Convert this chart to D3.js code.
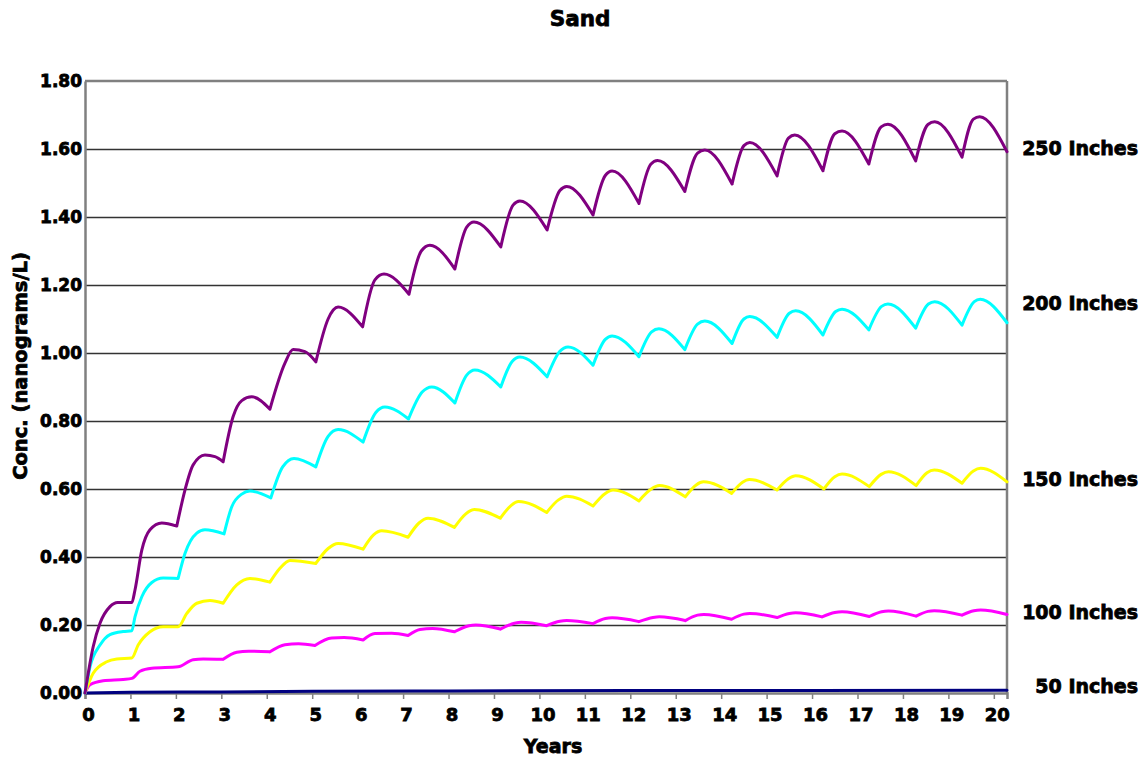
<!DOCTYPE html>
<html>
<head>
<meta charset="utf-8">
<script src="https://cdn.jsdelivr.net/npm/d3@7"></script>
<style>
  html, body { margin: 0; padding: 0; background: #fff; }
  svg text { font-family: "DejaVu Sans", "Liberation Sans", sans-serif; font-weight: bold; fill: #000; }
</style>
</head>
<body>
<svg id="chart" width="1148" height="761"></svg>
<script>
// ---- data (years, concentration ng/L) ----
const chartTitle = "Sand";
const xTitle = "Years";
const yTitle = "Conc. (nanograms/L)";
const xTicks = [0,1,2,3,4,5,6,7,8,9,10,11,12,13,14,15,16,17,18,19,20];
const yTicks = [0,0.2,0.4,0.6,0.8,1.0,1.2,1.4,1.6,1.8];
const seriesNames = ["50 Inches","100 Inches","150 Inches","200 Inches","250 Inches"];

const in50 = [[0,0],[1,0.002],[3,0.003],[5,0.005],[8,0.006],[12,0.007],[16,0.0075],[20.29,0.008]];

const in100 = [[0,0],[0.11,0.024],[0.4,0.036],[0.84,0.040],[1.03,0.043],
  [1.21,0.064],[1.47,0.073],[2.05,0.077],
  [2.38,0.098],[2.6,0.100],[3.04,0.099],
  [3.34,0.120],[3.6,0.123],[4.07,0.121],
  [4.4,0.142],[4.7,0.145],[5.06,0.140],
  [5.43,0.162],[5.7,0.163],[6.12,0.156],
  [6.38,0.175],[6.75,0.176],[7.11,0.169],
  [7.37,0.187],[7.65,0.190],[8.13,0.180],
  [8.45,0.198],[8.6,0.200],[9.14,0.188],
  [9.45,0.205],[9.6,0.208],[10.16,0.198],
  [10.45,0.211],[10.6,0.213],[11.18,0.204],
  [11.45,0.219],[11.6,0.221],[12.19,0.210],
  [12.5,0.222],[12.64,0.224],[13.21,0.213],
  [13.48,0.229],[13.62,0.231],[14.23,0.217],
  [14.5,0.232],[14.63,0.234],[15.23,0.222],
  [15.5,0.234],[15.64,0.236],[16.22,0.224],
  [16.5,0.237],[16.66,0.239],[17.26,0.225],
  [17.53,0.239],[17.68,0.241],[18.29,0.226],
  [18.55,0.240],[18.69,0.242],[19.3,0.229],
  [19.56,0.242],[19.71,0.244],[20.29,0.231]];

const in150 = [[0,0],[0.18,0.058],[0.48,0.092],[0.7,0.100],[1.03,0.103],
  [1.17,0.141],[1.43,0.180],[1.72,0.195],[2.05,0.195],
  [2.24,0.234],[2.46,0.264],[2.75,0.272],[3.04,0.264],
  [3.34,0.318],[3.63,0.337],[4.07,0.326],
  [4.29,0.367],[4.51,0.390],[5.08,0.381],
  [5.35,0.425],[5.57,0.440],[6.12,0.423],
  [6.35,0.465],[6.53,0.477],[7.11,0.458],
  [7.35,0.500],[7.55,0.514],[8.13,0.487],
  [8.38,0.527],[8.57,0.540],[9.14,0.514],
  [9.38,0.552],[9.54,0.563],[10.16,0.531],
  [10.42,0.568],[10.6,0.579],[11.18,0.550],
  [11.45,0.587],[11.62,0.597],[12.19,0.565],
  [12.46,0.600],[12.64,0.610],[13.21,0.577],
  [13.45,0.612],[13.61,0.621],[14.23,0.587],
  [14.47,0.620],[14.62,0.628],[15.23,0.597],
  [15.48,0.630],[15.64,0.639],[16.26,0.600],
  [16.5,0.636],[16.66,0.644],[17.26,0.607],
  [17.52,0.643],[17.68,0.651],[18.29,0.610],
  [18.53,0.648],[18.69,0.656],[19.3,0.617],
  [19.55,0.653],[19.71,0.661],[20.29,0.621]];

const in200 = [[0,0],[0.11,0.077],[0.33,0.141],[0.55,0.172],[0.84,0.181],[1.03,0.183],
  [1.1,0.224],[1.25,0.283],[1.47,0.325],[1.72,0.338],[2.05,0.337],
  [2.2,0.410],[2.46,0.470],[2.64,0.480],[3.06,0.468],
  [3.23,0.548],[3.45,0.585],[3.63,0.594],[4.09,0.574],
  [4.35,0.665],[4.6,0.690],[5.08,0.665],
  [5.35,0.755],[5.57,0.775],[6.12,0.738],
  [6.4,0.825],[6.6,0.841],[7.12,0.806],
  [7.42,0.885],[7.63,0.900],[8.14,0.853],
  [8.4,0.935],[8.58,0.950],[9.15,0.900],
  [9.4,0.975],[9.57,0.988],[10.17,0.930],
  [10.45,1.005],[10.63,1.018],[11.18,0.964],
  [11.45,1.040],[11.6,1.050],[12.19,0.989],
  [12.47,1.062],[12.63,1.071],[13.2,1.010],
  [13.48,1.085],[13.64,1.094],[14.24,1.028],
  [14.5,1.100],[14.63,1.107],[15.23,1.046],
  [15.5,1.117],[15.64,1.124],[16.24,1.053],
  [16.52,1.122],[16.66,1.129],[17.25,1.068],
  [17.53,1.137],[17.67,1.144],[18.28,1.073],
  [18.56,1.144],[18.7,1.151],[19.3,1.082],
  [19.57,1.151],[19.7,1.158],[20.29,1.089]];

const in250 = [[0,0],[0.18,0.136],[0.33,0.205],[0.55,0.254],[0.72,0.266],[1.03,0.266],
  [1.1,0.303],[1.25,0.420],[1.43,0.480],[1.69,0.500],[2.02,0.491],
  [2.2,0.597],[2.38,0.671],[2.64,0.700],[2.86,0.695],[3.04,0.680],
  [3.26,0.813],[3.45,0.860],[3.67,0.871],[4.07,0.835],
  [4.4,0.970],[4.58,1.010],[4.84,1.004],[5.08,0.974],
  [5.35,1.100],[5.57,1.135],[6.11,1.077],
  [6.38,1.215],[6.58,1.232],[7.13,1.173],
  [7.4,1.300],[7.59,1.317],[8.14,1.247],
  [8.4,1.370],[8.56,1.385],[9.15,1.312],
  [9.42,1.435],[9.57,1.447],[10.17,1.362],
  [10.45,1.478],[10.6,1.490],[11.18,1.406],
  [11.45,1.522],[11.6,1.535],[12.19,1.440],
  [12.45,1.555],[12.6,1.566],[13.2,1.475],
  [13.48,1.588],[13.64,1.597],[14.24,1.497],
  [14.5,1.610],[14.63,1.619],[15.23,1.521],
  [15.48,1.632],[15.62,1.641],[16.24,1.536],
  [16.5,1.645],[16.66,1.653],[17.25,1.556],
  [17.52,1.665],[17.67,1.673],[18.28,1.565],
  [18.55,1.672],[18.7,1.680],[19.3,1.576],
  [19.55,1.688],[19.69,1.695],[20.29,1.592]];

const seriesData = [in50, in100, in150, in200, in250];
const seriesColors = ["#000080","#FF00FF","#FFFF00","#00FFFF","#800080"];
// label vertical anchor (in data units) for right-hand series labels
const labelAt = [0.022, 0.238, 0.63, 1.147, 1.603];

// ---- layout ----
const svg = d3.select("#chart");
const mLeft = 85, mRight = 1007, mTop = 81, mBottom = 693;
const x = d3.scaleLinear().domain([0, 20.29]).range([mLeft, mRight]);
const y = d3.scaleLinear().domain([0, 1.8]).range([mBottom, mTop]);
const heavy = 0.8;

// gridlines
svg.append("g").selectAll("line").data(yTicks.slice(1, -1)).join("line")
  .attr("x1", mLeft).attr("x2", mRight)
  .attr("y1", d => Math.round(y(d)) + 0.5).attr("y2", d => Math.round(y(d)) + 0.5)
  .attr("stroke", "#333").attr("stroke-width", 1.3);

// plot border (top & right)
svg.append("line").attr("x1", mLeft).attr("x2", mRight).attr("y1", mTop).attr("y2", mTop)
  .attr("stroke", "#808080").attr("stroke-width", 2.5);
svg.append("line").attr("x1", mRight).attr("x2", mRight).attr("y1", mTop).attr("y2", mBottom)
  .attr("stroke", "#808080").attr("stroke-width", 2.5);

// x axis
const xAxis = d3.axisBottom(x).tickValues(xTicks).tickSize(6).tickFormat(d3.format("d"));
const gx = svg.append("g").attr("transform", `translate(0,${mBottom})`).call(xAxis);
gx.select(".domain").attr("stroke", "#808080").attr("stroke-width", 2.5);
gx.selectAll(".tick line").attr("stroke", "#808080").attr("stroke-width", 1.5);
gx.selectAll(".tick text").attr("font-size", 18).attr("dy", "1.05em").attr("dx", 3)
  .attr("font-family", "DejaVu Sans").attr("font-weight", "bold")
  .attr("stroke", "#000").attr("stroke-width", heavy);

// y axis
const yAxis = d3.axisLeft(y).tickValues(yTicks).tickSize(0).tickPadding(3).tickFormat(d3.format(".2f"));
const gy = svg.append("g").attr("transform", `translate(${mLeft},0)`).call(yAxis);
gy.select(".domain").attr("stroke", "#808080").attr("stroke-width", 2.5);
gy.selectAll(".tick text").attr("font-size", 17)
  .attr("font-family", "DejaVu Sans").attr("font-weight", "bold")
  .attr("stroke", "#000").attr("stroke-width", heavy);

// series lines: smooth between troughs, sharp cusps at troughs
const lineGen = d3.line().x(d => x(d[0])).y(d => y(d[1])).curve(d3.curveMonotoneX);
function cuspPath(pts) {
  const segs = [];
  let cur = [pts[0]];
  for (let i = 1; i < pts.length; i++) {
    cur.push(pts[i]);
    if (i < pts.length - 1 && pts[i][1] < pts[i-1][1] && pts[i][1] < pts[i+1][1]) {
      segs.push(cur);
      cur = [pts[i]];
    }
  }
  segs.push(cur);
  return segs.map(s => lineGen(s)).join("");
}
svg.append("g").selectAll("path").data(seriesData).join("path")
  .attr("d", d => cuspPath(d))
  .attr("fill", "none")
  .attr("stroke", (d, i) => seriesColors[i])
  .attr("stroke-width", 3)
  .attr("stroke-linejoin", "round")
  .attr("stroke-linecap", "round");

// right-hand series labels
svg.append("g").selectAll("text").data(seriesNames).join("text")
  .attr("x", 1138).attr("y", (d, i) => y(labelAt[i]))
  .attr("text-anchor", "end").attr("dominant-baseline", "central")
  .attr("font-size", 19).attr("stroke", "#000").attr("stroke-width", heavy)
  .text(d => d);

// titles
svg.append("text").attr("x", 580).attr("y", 18).attr("text-anchor", "middle")
  .attr("dominant-baseline", "central").attr("font-size", 21.5)
  .attr("stroke", "#000").attr("stroke-width", heavy).text(chartTitle);
svg.append("text").attr("x", 553).attr("y", 746).attr("text-anchor", "middle")
  .attr("dominant-baseline", "central").attr("font-size", 19)
  .attr("stroke", "#000").attr("stroke-width", heavy).text(xTitle);
svg.append("text").attr("transform", "translate(20,366) rotate(-90)")
  .attr("text-anchor", "middle").attr("dominant-baseline", "central")
  .attr("font-size", 19.5).attr("stroke", "#000").attr("stroke-width", heavy).text(yTitle);
</script>
</body>
</html>
